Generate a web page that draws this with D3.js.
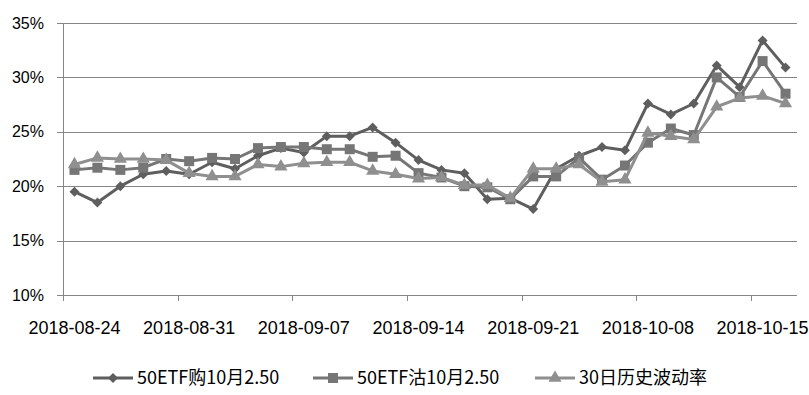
<!DOCTYPE html>
<html>
<head>
<meta charset="utf-8">
<script src="https://cdn.jsdelivr.net/npm/d3@7"></script>
<style>
  body { margin: 0; background: #fff; }
  svg { display: block; }
  text { fill: #000; }
  .xlab { font-family: "Liberation Sans Narrow", "Liberation Sans", "Noto Sans CJK SC", sans-serif; font-size: 18px; }
  .ylab { font-family: "Liberation Sans", "Noto Sans CJK SC", sans-serif; font-size: 16px; }
  .leg { font-family: "Liberation Sans Narrow", "Noto Sans CJK SC", sans-serif; font-size: 18px; }
</style>
</head>
<body>
<svg width="809" height="395"></svg>
<script>
// trading days on the category axis
var dates = [
  "2018-08-24", "2018-08-27", "2018-08-28", "2018-08-29", "2018-08-30",
  "2018-08-31", "2018-09-03", "2018-09-04", "2018-09-05", "2018-09-06",
  "2018-09-07", "2018-09-10", "2018-09-11", "2018-09-12", "2018-09-13",
  "2018-09-14", "2018-09-17", "2018-09-18", "2018-09-19", "2018-09-20",
  "2018-09-21", "2018-09-25", "2018-09-26", "2018-09-27", "2018-09-28",
  "2018-10-08", "2018-10-09", "2018-10-10", "2018-10-11", "2018-10-12",
  "2018-10-15", "2018-10-16"
];

// implied vol, call (购)
var callVol = [19.5, 18.5, 20.0, 21.1, 21.4, 21.1, 22.2, 21.6, 22.8, 23.5,
               23.1, 24.6, 24.6, 25.4, 24.0, 22.4, 21.5, 21.2, 18.8, 18.9,
               17.9, 21.6, 22.8, 23.6, 23.3, 27.6, 26.6, 27.6, 31.1, 29.1,
               33.4, 30.9];
// implied vol, put (沽)
var putVol = [21.5, 21.7, 21.5, 21.7, 22.5, 22.3, 22.6, 22.5, 23.5, 23.6,
              23.6, 23.4, 23.4, 22.7, 22.8, 21.2, 20.8, 20.0, 19.9, 18.8,
              20.9, 20.9, 22.6, 20.6, 21.9, 24.0, 25.3, 24.7, 30.0, 28.2,
              31.5, 28.5];
// 30 day historical vol
var histVol = [22.0, 22.6, 22.5, 22.5, 22.4, 21.2, 20.9, 20.9, 22.0, 21.8,
               22.1, 22.2, 22.2, 21.4, 21.1, 20.7, 20.8, 20.1, 20.1, 18.9,
               21.6, 21.6, 22.0, 20.4, 20.6, 24.9, 24.6, 24.3, 27.3, 28.1,
               28.3, 27.6];

var seriesNames = ["50ETF购10月2.50", "50ETF沽10月2.50", "30日历史波动率"];
var yTicks = [10, 15, 20, 25, 30, 35];
var labelEvery = 5;

var svg = d3.select("svg"),
    margin = {top: 23, right: 12, bottom: 100, left: 63},
    width = +svg.attr("width") - margin.left - margin.right,
    height = +svg.attr("height") - margin.top - margin.bottom;

var x = d3.scaleBand().domain(dates).range([margin.left, margin.left + width]),
    y = d3.scaleLinear().domain([10, 35]).range([margin.top + height, margin.top]);

// diamond = square turned 45 degrees
var series = [
  {name: seriesNames[0], values: callVol, color: "#5e5e5e", shape: d3.symbolSquare, size: 50, rot: 45},
  {name: seriesNames[1], values: putVol, color: "#767676", shape: d3.symbolSquare, size: 100, rot: 0},
  {name: seriesNames[2], values: histVol, color: "#8f8f8f", shape: d3.symbolTriangle, size: 75, rot: 0}
];

function cx(d) { return x(d) + x.bandwidth() / 2; }

// gridlines
svg.append("g")
  .selectAll("line")
  .data(yTicks)
  .enter()
  .append("line")
  .attr("x1", margin.left - 6)
  .attr("x2", margin.left + width)
  .attr("y1", function(d) { return Math.round(y(d)) + 0.5; })
  .attr("y2", function(d) { return Math.round(y(d)) + 0.5; })
  .attr("stroke", "#868686");

// y labels
svg.append("g")
  .selectAll("text")
  .data(yTicks)
  .enter()
  .append("text")
  .attr("class", "ylab")
  .attr("x", margin.left - 19)
  .attr("y", function(d) { return y(d); })
  .attr("dy", "0.35em")
  .attr("text-anchor", "end")
  .text(function(d) { return d + "%"; });

// y axis line
svg.append("line")
  .attr("x1", margin.left + 0.5).attr("x2", margin.left + 0.5)
  .attr("y1", margin.top).attr("y2", margin.top + height)
  .attr("stroke", "#868686");

// x tick marks between groups of categories
var tickIdx = d3.range(0, dates.length, labelEvery);
svg.append("g")
  .selectAll("line")
  .data(tickIdx)
  .enter()
  .append("line")
  .attr("x1", function(i) { return Math.round(x(dates[i])) + 0.5; })
  .attr("x2", function(i) { return Math.round(x(dates[i])) + 0.5; })
  .attr("y1", margin.top + height)
  .attr("y2", margin.top + height + 6)
  .attr("stroke", "#868686");

// x labels
svg.append("g")
  .selectAll("text")
  .data(tickIdx)
  .enter()
  .append("text")
  .attr("class", "xlab")
  .attr("x", function(i) { return cx(dates[i]); })
  .attr("y", margin.top + height + 39)
  .attr("text-anchor", "middle")
  .text(function(i) { return dates[i]; });

// lines and markers
var line = d3.line()
  .x(function(d, i) { return cx(dates[i]); })
  .y(function(d) { return y(d); });

series.forEach(function(s) {
  var g = svg.append("g");
  g.append("path")
    .datum(s.values)
    .attr("d", line)
    .attr("fill", "none")
    .attr("stroke", s.color)
    .attr("stroke-width", 3)
    .attr("stroke-linejoin", "round");
  g.selectAll("path.m")
    .data(s.values)
    .enter()
    .append("path")
    .attr("class", "m")
    .attr("d", d3.symbol().type(s.shape).size(s.size))
    .attr("transform", function(d, i) {
      return "translate(" + cx(dates[i]) + "," + y(d) + ") rotate(" + s.rot + ")";
    })
    .attr("fill", s.color);
});

// legend
var legX = [93, 313, 535];
var legY = 378;
var legend = svg.append("g");
series.forEach(function(s, i) {
  legend.append("line")
    .attr("x1", legX[i]).attr("x2", legX[i] + 40)
    .attr("y1", legY).attr("y2", legY)
    .attr("stroke", s.color)
    .attr("stroke-width", 3);
  legend.append("path")
    .attr("d", d3.symbol().type(s.shape).size(s.size))
    .attr("transform", "translate(" + (legX[i] + 20) + "," + legY + ") rotate(" + s.rot + ")")
    .attr("fill", s.color);
  legend.append("text")
    .attr("class", "leg")
    .attr("x", legX[i] + 44)
    .attr("y", legY)
    .attr("dy", "0.36em")
    .text(s.name);
});
</script>
</body>
</html>
